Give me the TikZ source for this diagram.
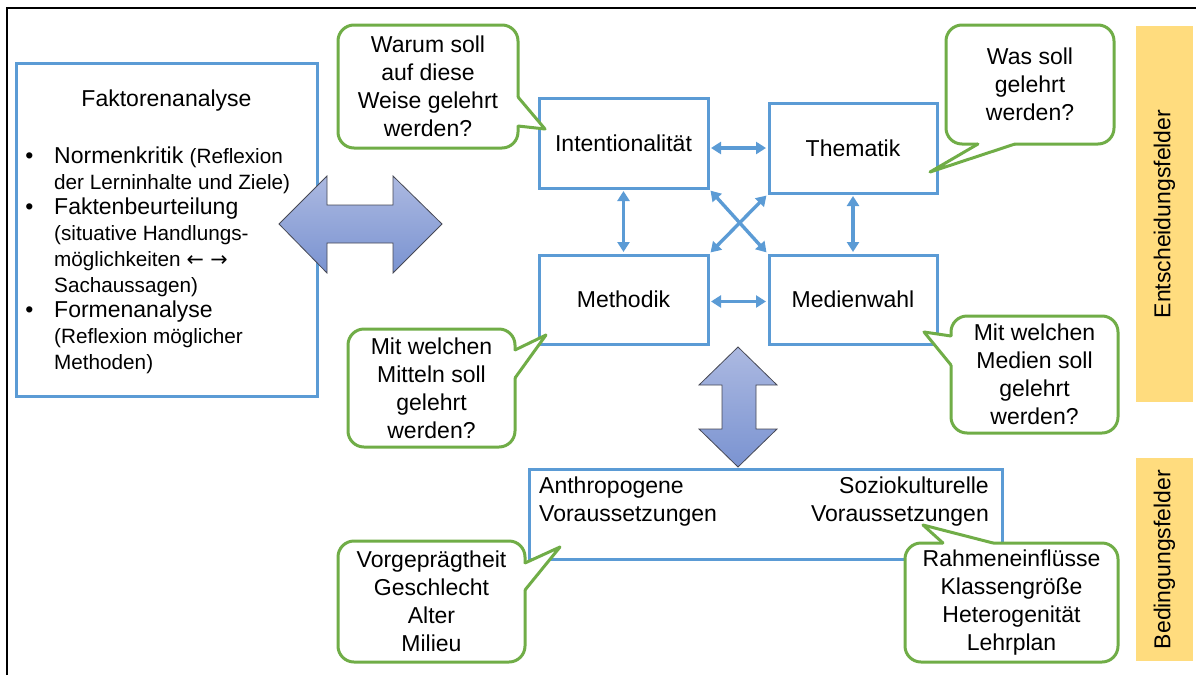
\documentclass[tikz,border=0pt]{standalone}
\usepackage{fontspec}
\setmainfont{Liberation Sans}
\newfontfamily\arrowfont{DejaVu Sans}
\usetikzlibrary{arrows.meta}

\definecolor{boxblue}{RGB}{91,155,213}
\definecolor{bubblegreen}{RGB}{112,173,71}
\definecolor{fieldgold}{RGB}{255,220,126}
\definecolor{arrowtop}{RGB}{172,185,225}
\definecolor{arrowbottom}{RGB}{122,147,209}
\definecolor{arrowedge}{RGB}{70,72,84}

\newcommand{\smallsz}{\fontsize{20.7}{26}\selectfont}

\tikzset{
  txt/.style={font=\fontsize{23}{28}\selectfont, text=black},
  fieldbox/.style={draw=boxblue, line width=3pt, fill=white, inner sep=0pt, txt},
  bubble/.style={draw=bubblegreen, line width=3pt, fill=white, rounded corners=16pt,
                 inner sep=0pt, align=center, txt},
  tailfill/.style={fill=white},
  tailline/.style={draw=bubblegreen, line width=3pt, line join=round, line cap=round},
  link/.style={draw=boxblue, line width=3.4pt,
               {Triangle[length=10pt,width=12pt]}-{Triangle[length=10pt,width=12pt]},
               shorten <=1.5pt, shorten >=1.5pt},
  blockarrow/.style={top color=arrowtop, bottom color=arrowbottom, draw=arrowedge,
                     line width=0.8pt, line join=miter},
  fieldbar/.style={fill=fieldgold, inner sep=0pt, rotate=90, txt, minimum height=57pt},
  linetext/.style={txt, anchor=base west, inner sep=0pt},
  bullet/.style={txt, anchor=base, inner sep=0pt},
}

\begin{document}
\begin{tikzpicture}[x=1pt, y=-1pt]
\useasboundingbox (0,0) rectangle (1196,675);

% frame (left and top edges)
\draw[line width=2pt, black] (7,675) -- (7,8) -- (1196,8);

% side labels
\node[fieldbar, minimum width=376pt] (entsch) at (1164.5,214) {Entscheidungsfelder};
\node[fieldbar, minimum width=203pt] (beding) at (1164.5,559.5) {Bedingungsfelder};

% factor analysis box
\node[fieldbox, minimum width=301pt, minimum height=333pt] (faktor) at (166.5,229.5) {};
\node[txt, anchor=base, inner sep=0pt] (ftitle) at (166.5,106) {Faktorenanalyse};
\node[bullet] (fb1) at (29.5,163.5) {\textbullet};
\node[bullet] (fb2) at (29.5,214.9) {\textbullet};
\node[bullet] (fb3) at (29.5,317.7) {\textbullet};
\node[linetext] (fl1) at (54,163.5) {Normenkritik {\smallsz (Reflexion}};
\node[linetext, font=\smallsz] (fl2) at (54,189.2) {der Lerninhalte und Ziele)};
\node[linetext] (fl3) at (54,214.9) {Faktenbeurteilung};
\node[linetext, font=\smallsz] (fl4) at (54,240.6) {(situative Handlungs-};
\node[linetext, font=\smallsz] (fl5) at (54,266.3) {möglichkeiten {\arrowfont ← →}};
\node[linetext, font=\smallsz] (fl6) at (54,292) {Sachaussagen)};
\node[linetext] (fl7) at (54,317.7) {Formenanalyse};
\node[linetext, font=\smallsz] (fl8) at (54,343.4) {(Reflexion möglicher};
\node[linetext, font=\smallsz] (fl9) at (54,369.1) {Methoden)};

% block arrows
\shadedraw[blockarrow] (279,224) -- (327,176) -- (327,205) -- (393,205) -- (393,176)
  -- (442,224) -- (393,273) -- (393,243) -- (327,243) -- (327,273) -- cycle;
\shadedraw[blockarrow] (738,347) -- (777,385) -- (756,385) -- (756,429) -- (777,429)
  -- (738,467) -- (699,429) -- (722,429) -- (722,385) -- (699,385) -- cycle;

% decision fields
\node[fieldbox, minimum width=169pt, minimum height=90pt] (int) at (623.5,143) {Intentionalität};
\node[fieldbox, minimum width=168pt, minimum height=90pt] (them) at (853,148) {Thematik};
\node[fieldbox, minimum width=169pt, minimum height=89pt] (meth) at (623.5,299.5) {Methodik};
\node[fieldbox, minimum width=168pt, minimum height=89pt] (med) at (853,299.5) {Medienwahl};

\draw[link] (int.east |- them.west) -- (them.west);
\draw[link] ([yshift=-2pt]meth.east) -- ([yshift=-2pt]med.west);
\draw[link] (int.south) -- (meth.north);
\draw[link] (them.south) -- (med.north);
\draw[link] (int.south east) -- (med.north west);
\draw[link] (them.south west) -- (meth.north east);

% condition fields
\node[fieldbox, minimum width=473pt, minimum height=90pt] (cond) at (765.5,514) {};
\node[txt, align=left, anchor=west, inner sep=0pt] (anthro) at (539,502) {Anthropogene\\Voraussetzungen};
\node[txt, align=right, anchor=east, inner sep=0pt] (sozio) at (989,502) {Soziokulturelle\\Voraussetzungen};

% speech bubbles
\node[bubble, minimum width=180pt, minimum height=123pt] (b1) at (428,86.5)
  {Warum soll\\auf diese\\Weise gelehrt\\werden?};
\path[tailfill] (518,97) -- (545,129) -- (518,126) -- (512,126) -- (512,97) -- cycle;
\draw[tailline] (518,97) -- (545,129) -- (518,126);

\node[bubble, minimum width=168pt, minimum height=119pt] (b2) at (1030,84.5)
  {Was soll\\gelehrt\\werden?};
\path[tailfill] (978,144) -- (930,172) -- (1015,144) -- (1015,138) -- (978,138) -- cycle;
\draw[tailline] (978,144) -- (930,172) -- (1015,144);

\node[bubble, minimum width=167pt, minimum height=118pt] (b3) at (431.5,388)
  {Mit welchen\\Mitteln soll\\gelehrt\\werden?};
\path[tailfill] (515,350) -- (546,335) -- (515,378) -- (509,378) -- (509,350) -- cycle;
\draw[tailline] (515,350) -- (546,335) -- (515,378);

\node[bubble, minimum width=167pt, minimum height=117pt] (b4) at (1034.5,374.5)
  {Mit welchen\\Medien soll\\gelehrt\\werden?};
\path[tailfill] (951,336) -- (924,332) -- (951,365) -- (957,365) -- (957,336) -- cycle;
\draw[tailline] (951,336) -- (924,332) -- (951,365);

\node[bubble, minimum width=187pt, minimum height=121pt] (b5) at (431.5,601.5)
  {Vorgeprägtheit\\Geschlecht\\Alter\\Milieu};
\path[tailfill] (525,563) -- (560,547) -- (525,590) -- (519,590) -- (519,563) -- cycle;
\draw[tailline] (525,563) -- (560,547) -- (525,590);

\node[bubble, minimum width=213pt, minimum height=119pt] (b6) at (1011.5,602.5)
  {Rahmeneinflüsse\\Klassengröße\\Heterogenität\\Lehrplan};
\path[tailfill] (943,543) -- (923,525) -- (993,543) -- (993,549) -- (943,549) -- cycle;
\draw[tailline] (943,543) -- (923,525) -- (993,543);

\end{tikzpicture}
\end{document}
